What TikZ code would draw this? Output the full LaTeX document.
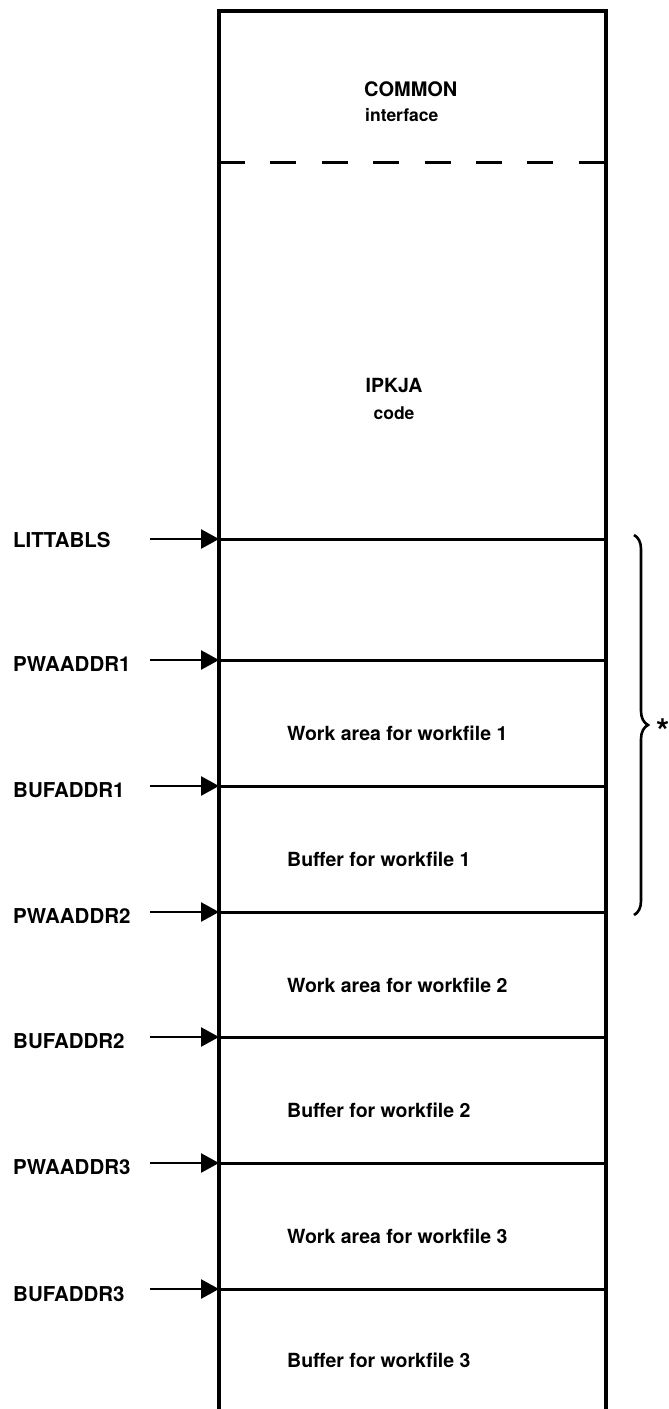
\documentclass[tikz,border=0pt]{standalone}
\usepackage{fontspec}
\setmainfont{TeX Gyre Heros}
\usepackage{tikz}
\usetikzlibrary{arrows.meta, decorations.pathreplacing}

\begin{document}
\begin{tikzpicture}[
    x=1pt, y=-1pt,
    every node/.style={font=\fontsize{19.5}{23}\selectfont\bfseries, inner sep=0pt},
    addr/.style={anchor=west, font=\fontsize{20.5}{24}\selectfont\bfseries},
    area/.style={anchor=west},
    small/.style={font=\fontsize{17.5}{21}\selectfont\bfseries},
    ptr/.style={line width=2.6pt, -{Triangle[length=18pt, width=19pt]}},
    wall/.style={line width=3.2pt},
    split/.style={line width=3pt},
  ]
    \useasboundingbox (0,0) rectangle (669,1409);

    % storage outline, open at the bottom
    \coordinate (tl) at (219,11);
    \coordinate (tr) at (606,11);
    \coordinate (bl) at (219,1416);
    \coordinate (br) at (606,1416);
    \draw[wall, line join=miter] (bl) -- (tl) -- (tr) -- (br);

    \coordinate (dl) at (219,162);
    \coordinate (dr) at (606,162);
    \draw[split, dash pattern=on 26pt off 25.4pt] (dl) -- (dr);

    \node[anchor=west, font=\fontsize{20}{24}\selectfont\bfseries] (common) at (364,89) {COMMON};
    \node[anchor=west, small] (iface) at (365,115) {interface};
    \node (ipkja) at (394,386) {IPKJA};
    \node[small] (code) at (394,413) {code};

    % boundaries and their pointers
    \coordinate (lit l) at (219,539);  \coordinate (lit r) at (606,539);
    \coordinate (pwa1 l) at (219,660); \coordinate (pwa1 r) at (606,660);
    \coordinate (buf1 l) at (219,786); \coordinate (buf1 r) at (606,786);
    \coordinate (pwa2 l) at (219,912); \coordinate (pwa2 r) at (606,912);
    \coordinate (buf2 l) at (219,1037); \coordinate (buf2 r) at (606,1037);
    \coordinate (pwa3 l) at (219,1163); \coordinate (pwa3 r) at (606,1163);
    \coordinate (buf3 l) at (219,1289); \coordinate (buf3 r) at (606,1289);

    \draw[split] (lit l) -- (lit r);
    \draw[split] (pwa1 l) -- (pwa1 r);
    \draw[split] (buf1 l) -- (buf1 r);
    \draw[split] (pwa2 l) -- (pwa2 r);
    \draw[split] (buf2 l) -- (buf2 r);
    \draw[split] (pwa3 l) -- (pwa3 r);
    \draw[split] (buf3 l) -- (buf3 r);

    \node[addr] (lit)  at (13,540)  {LITTABLS};
    \node[addr] (pwa1) at (13,664)  {PWAADDR1};
    \node[addr] (buf1) at (13,790)  {BUFADDR1};
    \node[addr] (pwa2) at (13,916)  {PWAADDR2};
    \node[addr] (buf2) at (13,1041) {BUFADDR2};
    \node[addr] (pwa3) at (13,1167) {PWAADDR3};
    \node[addr] (buf3) at (13,1294) {BUFADDR3};

    \coordinate (lit s) at (150,539);
    \coordinate (pwa1 s) at (150,660);
    \coordinate (buf1 s) at (150,786);
    \coordinate (pwa2 s) at (150,912);
    \coordinate (buf2 s) at (150,1037);
    \coordinate (pwa3 s) at (150,1163);
    \coordinate (buf3 s) at (150,1289);

    \draw[ptr] (lit s) -- (lit l);
    \draw[ptr] (pwa1 s) -- (pwa1 l);
    \draw[ptr] (buf1 s) -- (buf1 l);
    \draw[ptr] (pwa2 s) -- (pwa2 l);
    \draw[ptr] (buf2 s) -- (buf2 l);
    \draw[ptr] (pwa3 s) -- (pwa3 l);
    \draw[ptr] (buf3 s) -- (buf3 l);

    \node[area] (work1) at (287,733)  {Work area for workfile 1};
    \node[area] (bufr1) at (287,859)  {Buffer for workfile 1};
    \node[area] (work2) at (287,985)  {Work area for workfile 2};
    \node[area] (bufr2) at (287,1110) {Buffer for workfile 2};
    \node[area] (work3) at (287,1236) {Work area for workfile 3};
    \node[area] (bufr3) at (287,1360) {Buffer for workfile 3};

    % brace over the first areas
    \coordinate (brace t) at (634,535);
    \coordinate (brace b) at (634,915);
    \draw[line width=2.6pt, decorate, decoration={brace, amplitude=14pt}]
      (brace t) -- (brace b);
    \node[font=\fontsize{34}{34}\selectfont\bfseries] (star) at (663,731) {*};
  \end{tikzpicture}
\end{document}
